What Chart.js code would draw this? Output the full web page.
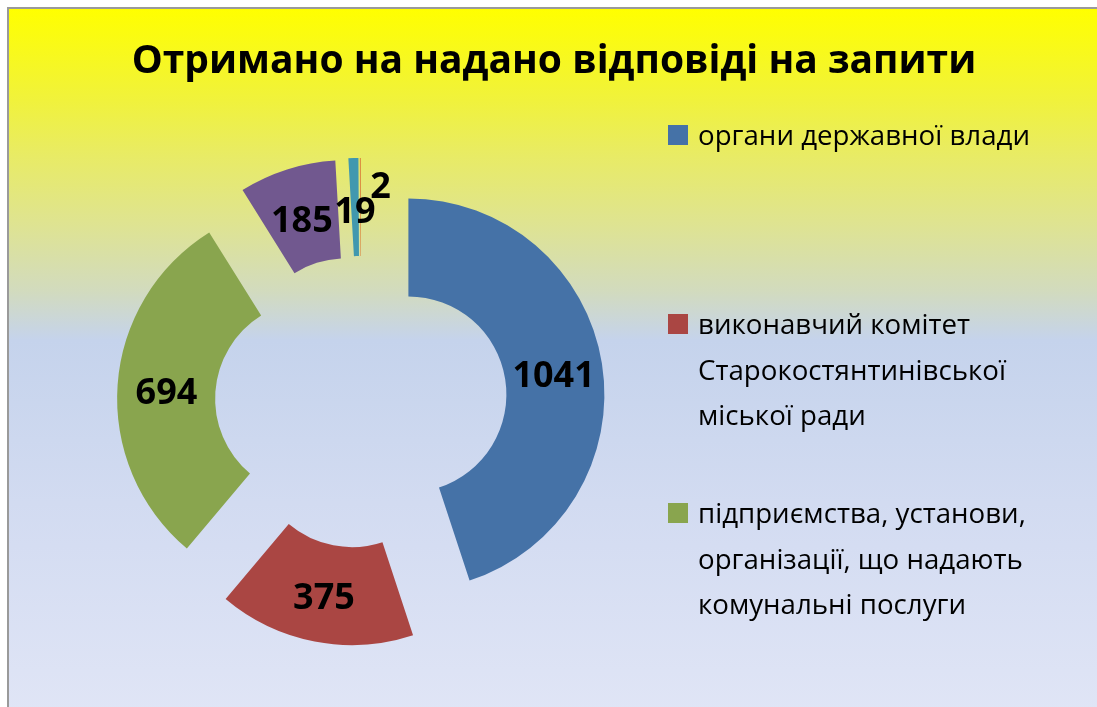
<!DOCTYPE html>
<html>
<head>
<meta charset="utf-8">
<script src="https://cdn.jsdelivr.net/npm/chart.js@4"></script>
<style>
  body { margin: 0; background: #fff; overflow: hidden; }
  #frame {
    position: absolute; left: 7px; top: 7px; width: 1095px; height: 705px;
    border-left: 2px solid #9a9a9a; border-top: 2px solid #9a9a9a;
    background: linear-gradient(to bottom, #ffff00 0%, #f0f23c 13%, #e8eb66 21%,
      #dfe48f 30%, #d2dbbe 40%, #c5d3ec 47%, #d2dbf1 70%, #e0e5f6 100%);
  }
  #chart { position: absolute; left: 0; top: 0; }
</style>
</head>
<body>
<div id="frame"></div>
<canvas id="chart" width="1097" height="707"></canvas>
<script>
// Data
const TITLE = 'Отримано на надано відповіді на запити';
const categories = [
    ['органи державної влади'],
    ['виконавчий комітет', 'Старокостянтинівської', 'міської ради'],
    ['підприємства, установи,', 'організації, що надають', 'комунальні послуги'],
    [''], [''], [''] // names cut off in the reference legend
];
const values = [1041, 375, 694, 185, 19, 2];

// Style
const colors = ['#4572a7', '#aa4643', '#89a54e', '#71588f', '#4198af', '#db843d'];
const EXPLODE = 48;          // px each slice is pushed out
const LEGEND_ITEMS = 3;      // only three fit in the reference
const labelNudge = [[0, 0], [0, 0], [0, 0], [0, 0], [0, 0], [20, -25]];

// Push every slice outwards by the same distance
const explodePlugin = {
    id: 'explode',
    afterDatasetUpdate(chart, args) {
        args.meta.data.forEach(arc => {
            const mid = (arc.startAngle + arc.endAngle) / 2;
            arc.x += Math.cos(mid) * EXPLODE;
            arc.y += Math.sin(mid) * EXPLODE;
        });
    }
};

// Title, legend, value labels
const decorPlugin = {
    id: 'decor',
    afterDatasetsDraw(chart) {
        const ctx = chart.ctx;
        const meta = chart.getDatasetMeta(0);
        ctx.save();
        ctx.fillStyle = '#000';
        ctx.font = 'bold 36px "Open Sans"';
        ctx.textAlign = 'center';
        ctx.textBaseline = 'alphabetic';
        meta.data.forEach((arc, i) => {
            const p = arc.getCenterPoint();
            // digits are ~26px tall, centre them a little below the centroid
            ctx.fillText(String(values[i]), p.x + labelNudge[i][0], p.y + 16 + labelNudge[i][1]);
        });
        ctx.restore();
    },
    afterDraw(chart) {
        const ctx = chart.ctx;
        ctx.save();
        ctx.fillStyle = '#000';

        // title
        ctx.font = 'bold 39px "Open Sans"';
        ctx.textAlign = 'center';
        ctx.textBaseline = 'alphabetic';
        ctx.fillText(TITLE, 554, 73, 845);

        // legend
        ctx.font = '27px "Open Sans"';
        ctx.textAlign = 'left';
        const sx = 332 / ctx.measureText(chart.data.labels[0][0]).width;
        chart.data.labels.slice(0, LEGEND_ITEMS).forEach((lines, i) => {
            const base = 145 + i * 189;
            ctx.fillStyle = chart.data.datasets[0].backgroundColor[i];
            ctx.fillRect(668, base - 20, 20, 20);
            ctx.fillStyle = '#000';
            lines.forEach((line, j) => {
                ctx.save();
                ctx.translate(698, base + j * 45.5);
                ctx.scale(sx, 1);
                ctx.fillText(line, 0, 0);
                ctx.restore();
            });
        });
        ctx.restore();
    }
};

const chart = new Chart(document.getElementById('chart'), {
    type: 'doughnut',
    data: {
        labels: categories,
        datasets: [{
            data: values,
            backgroundColor: colors,
            borderWidth: 0
        }]
    },
    options: {
        responsive: false,
        animation: false,
        events: [],
        radius: 196,
        cutout: '50%',
        layout: { padding: { left: 161, right: 536, top: 202, bottom: 105 } },
        plugins: {
            legend: { display: false },
            title: { display: false },
            tooltip: { enabled: false }
        }
    },
    plugins: [explodePlugin, decorPlugin]
});
</script>
</body>
</html>
